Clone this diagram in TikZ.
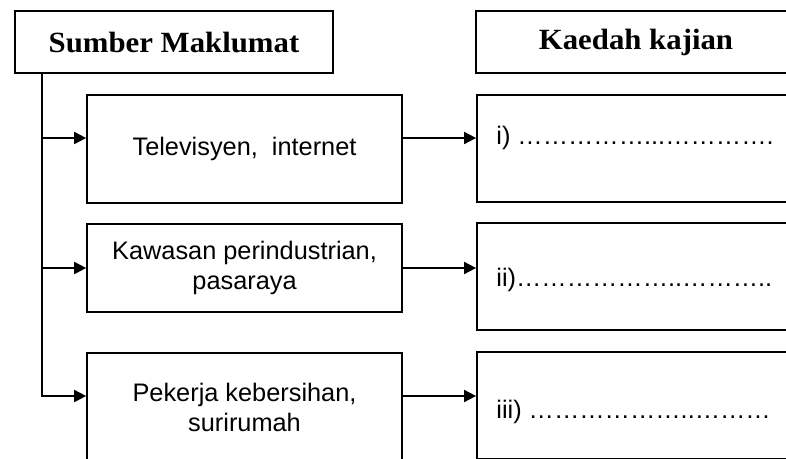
\documentclass[tikz,border=0pt]{standalone}
\usepackage{fontspec}
\setmainfont{Liberation Sans}
\newfontfamily\headfont[FakeStretch=1.05]{Liberation Serif}
\usetikzlibrary{arrows.meta}

\begin{document}
\begin{tikzpicture}[x=1pt, y=-1pt, >={Triangle[length=9pt,width=9pt]},
	garis/.style={line width=1.3pt},
	kotak/.style={draw, garis, inner sep=0pt, align=center, font=\fontsize{19}{22}\selectfont},
	tajuk/.style={kotak, font=\headfont\bfseries\fontsize{22}{24}\selectfont},
	jawapan/.style={anchor=west, inner sep=0pt, font=\fontsize{19}{22}\selectfont}]
	
	% Fix the page and cut what runs past the right edge
	\useasboundingbox (0,0) rectangle (589.5,343.5);
	\clip (0,0) rectangle (589.5,343.5);
	
	% Headings
	\node[tajuk, minimum width=238.5pt, minimum height=46.5pt] (sumber) at (130.5,31.5) {Sumber Maklumat};
	\node[tajuk, minimum width=240pt, minimum height=46.5pt] (kaedah) at (477,31.5) {Kaedah kajian};
	
	% Sources of information
	\node[kotak, minimum width=236.25pt, minimum height=81pt] (tv) at (183.4,111.75) {Televisyen,\ \ internet};
	\node[kotak, minimum width=236.25pt, minimum height=66pt] (kilang) at (183.4,201) {Kawasan perindustrian,\\ pasaraya};
	\node[kotak, minimum width=236.25pt, minimum height=81.75pt] (pekerja) at (183.4,305.6) {Pekerja kebersihan,\\ surirumah};
	
	% Answer boxes
	\node[kotak, minimum width=242pt, minimum height=80.25pt] (r1) at (478.75,111.4) {};
	\node[kotak, minimum width=242pt, minimum height=80.25pt] (r2) at (478.75,207.4) {};
	\node[kotak, minimum width=242pt, minimum height=80.25pt] (r3) at (478.75,304.1) {};
	\node[jawapan] (j1) at ([xshift=15pt,yshift=8pt]r1.west) {i) ……………...………….};
	\node[jawapan] (j2) at ([xshift=15pt,yshift=-2.6pt]r2.west) {ii)………………..………..};
	\node[jawapan] (j3) at ([xshift=15pt,yshift=-5pt]r3.west) {iii) ………………..………};
	
	% Trunk line with arrows to the sources
	\coordinate (batang) at ([xshift=21pt]sumber.south west);
	\draw[garis, ->] (batang) |- ([yshift=8.25pt]tv.west);
	\draw[garis, ->] (batang) |- (kilang.west);
	\draw[garis, ->] (batang) |- ([yshift=8.6pt]pekerja.west);
	
	% Arrows to the answer boxes
	\draw[garis, ->] ([yshift=8.25pt]tv.east) -- ([yshift=8.25pt]tv.east -| r1.west);
	\draw[garis, ->] (kilang.east) -- (kilang.east -| r2.west);
	\draw[garis, ->] ([yshift=8.6pt]pekerja.east) -- ([yshift=8.6pt]pekerja.east -| r3.west);
	
\end{tikzpicture}
\end{document}
